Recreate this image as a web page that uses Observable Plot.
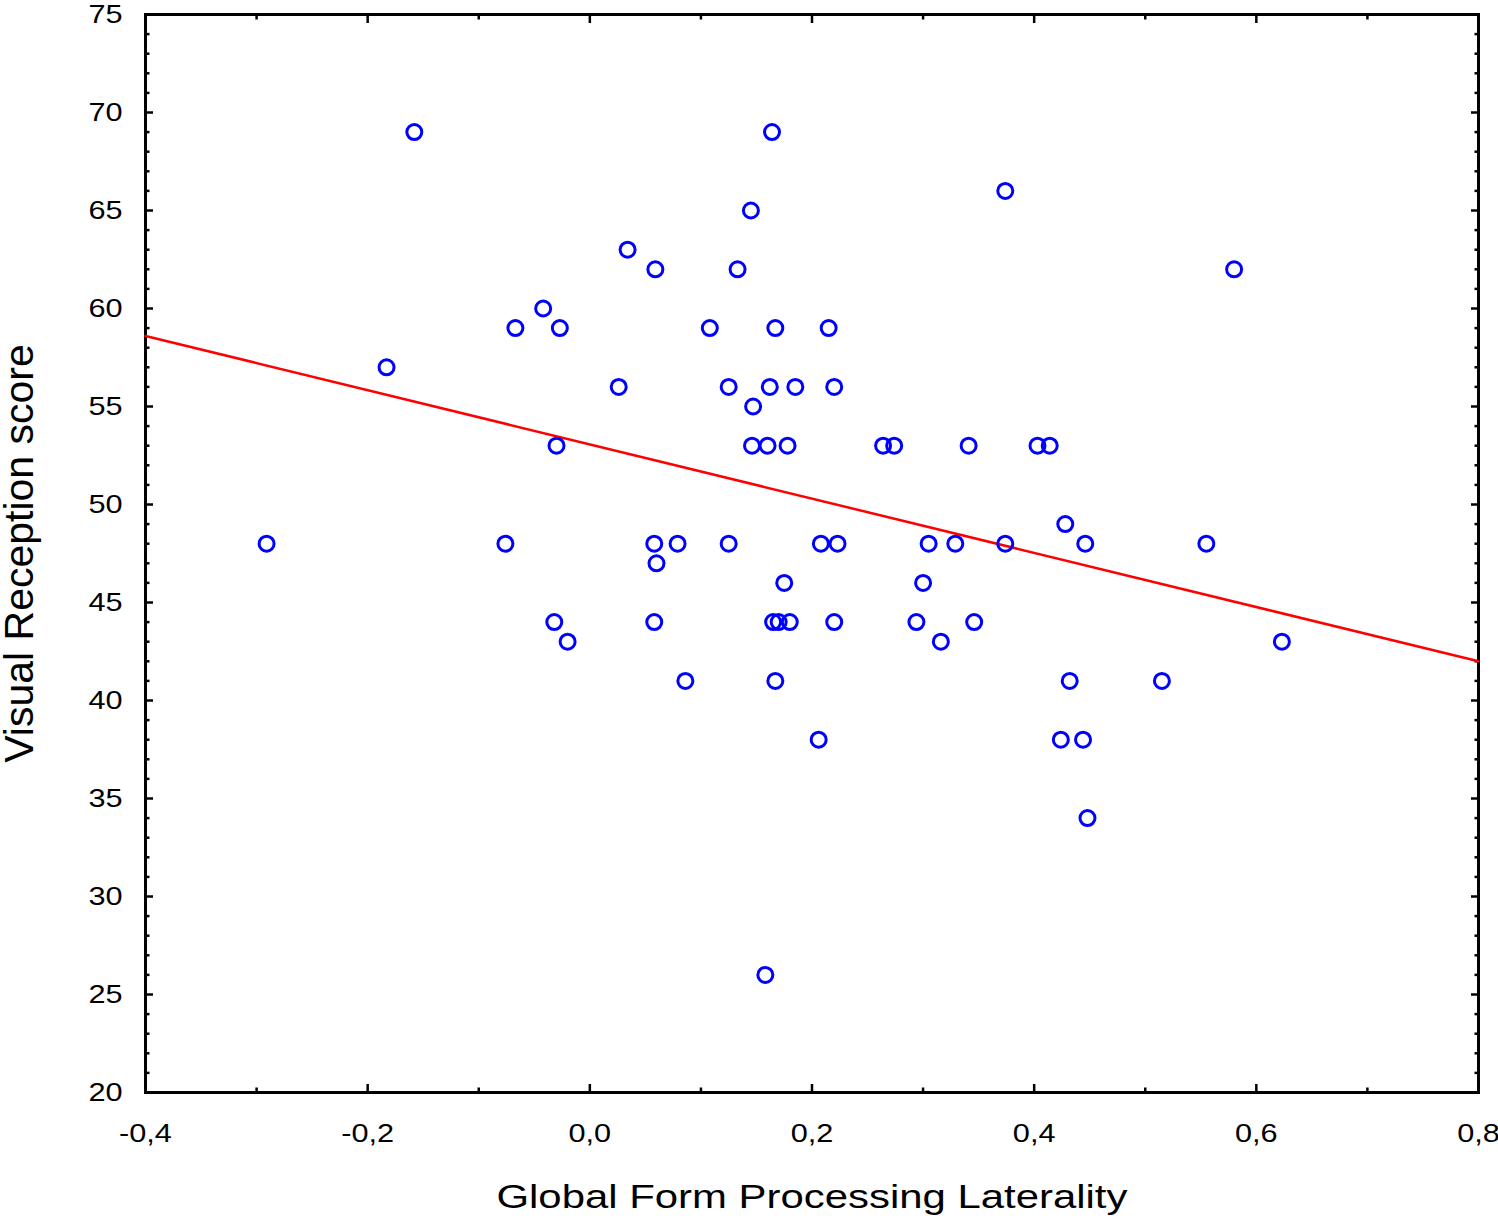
<!DOCTYPE html>
<html>
<head>
<meta charset="utf-8">
<script src="https://cdn.jsdelivr.net/npm/d3@7"></script>
<script src="https://cdn.jsdelivr.net/npm/@observablehq/plot@0.6"></script>
<style>
  html, body { margin: 0; padding: 0; background: #fff; }
  #chart svg { display: block; }
</style>
</head>
<body>
<div id="chart"></div>
<script>
// Global Form Processing Laterality (x) and Visual Reception score (y)
const laterality = [
  -0.291, -0.158, -0.183, -0.076, -0.067, -0.042, -0.027, -0.030, -0.032, -0.020,
   0.026,  0.034,  0.059,  0.058,  0.060,  0.058,  0.079,  0.086,  0.108,  0.125,
   0.125,  0.133,  0.145,  0.147,  0.146,  0.164,  0.160,  0.162,  0.167,  0.158,
   0.165,  0.170,  0.167,  0.175,  0.178,  0.180,  0.185,  0.206,  0.208,  0.215,
   0.220,  0.220,  0.223,  0.264,  0.274,  0.294,  0.300,  0.305,  0.316,  0.329,
   0.341,  0.346,  0.374,  0.374,  0.403,  0.414,  0.424,  0.428,  0.432,  0.444,
   0.446,  0.448,  0.515,  0.555,  0.580,  0.623
];
const visualReception = [
  48, 69, 57, 48, 59, 60, 59, 53, 44, 43,
  56, 63, 62, 48, 47, 44, 48, 41, 59, 56,
  48, 62, 65, 55, 53, 69, 53, 56, 59, 26,
  44, 44, 41, 46, 53, 44, 56, 38, 48, 59,
  56, 44, 48, 53, 53, 44, 46, 48, 43, 48,
  53, 44, 66, 48, 53, 53, 38, 49, 41, 38,
  48, 34, 41, 48, 62, 43
];

// Fitted line, read at the frame edges
const fitX = [-0.4, 0.8];
const fitY = [58.6, 42.0];

// Axis ticks
const xMajor = [-0.4, -0.2, 0.0, 0.2, 0.4, 0.6, 0.8];
const xMinor = [-0.3, -0.1, 0.1, 0.3, 0.5, 0.7];
const yMajor = [20, 25, 30, 35, 40, 45, 50, 55, 60, 65, 70, 75];
const yMinor = d3.range(21, 75).filter(v => v % 5 !== 0);

const xTitle = "Global Form Processing Laterality";
const yTitle = "Visual Reception score";

const points = laterality.map((x, i) => ({x, y: visualReception[i]}));
const fit = fitX.map((x, i) => ({x, y: fitY[i]}));

const fmtX = d => d.toFixed(1).replace(".", ",");
const fmtY = d => String(d);

const majorLen = 8, minorLen = 4.5, tickW = 2.5;

const chart = Plot.plot({
  width: 1498,
  height: 1220,
  marginLeft: 145,
  marginRight: 20,
  marginTop: 14,
  marginBottom: 128,
  style: {fontFamily: "'Liberation Sans', Arial, sans-serif", color: "black", background: "white"},
  x: {domain: [-0.4, 0.8], label: null},
  y: {domain: [20, 75], label: null},
  marks: [
    // inward ticks on all four sides
    Plot.axisX(xMajor, {anchor: "bottom", tickSize: majorLen, dy: -majorLen, fill: "none", label: null, strokeWidth: tickW}),
    Plot.axisX(xMinor, {anchor: "bottom", tickSize: minorLen, dy: -minorLen, fill: "none", label: null, strokeWidth: tickW}),
    Plot.axisX(xMajor, {anchor: "top", tickSize: majorLen, dy: majorLen, fill: "none", label: null, strokeWidth: tickW}),
    Plot.axisX(xMinor, {anchor: "top", tickSize: minorLen, dy: minorLen, fill: "none", label: null, strokeWidth: tickW}),
    Plot.axisY(yMajor, {anchor: "left", tickSize: majorLen, dx: majorLen, fill: "none", label: null, strokeWidth: tickW}),
    Plot.axisY(yMinor, {anchor: "left", tickSize: minorLen, dx: minorLen, fill: "none", label: null, strokeWidth: tickW}),
    Plot.axisY(yMajor, {anchor: "right", tickSize: majorLen, dx: -majorLen, fill: "none", label: null, strokeWidth: tickW}),
    Plot.axisY(yMinor, {anchor: "right", tickSize: minorLen, dx: -minorLen, fill: "none", label: null, strokeWidth: tickW}),
    // tick labels
    Plot.axisX(xMajor, {anchor: "bottom", tickSize: 0, tickPadding: 31.5, tickFormat: fmtX, fontSize: 26, label: null}),
    Plot.axisY(yMajor, {anchor: "left", tickSize: 0, tickPadding: 23, tickFormat: fmtY, fontSize: 26, label: null}),
    // frame
    Plot.frame({stroke: "black", strokeWidth: 3}),
    // regression line
    Plot.line(fit, {x: "x", y: "y", stroke: "#ff0000", strokeWidth: 2.5}),
    // points
    Plot.dot(points, {x: "x", y: "y", r: 7.5, stroke: "#0000ff", strokeWidth: 3, fill: "none"}),
    // axis titles
    Plot.text([xTitle], {text: d => d, frameAnchor: "bottom", dy: 104.5, lineAnchor: "middle", textAnchor: "middle", fontSize: 33}),
    Plot.text([yTitle], {text: d => d, frameAnchor: "left", dx: -126, rotate: -90, lineAnchor: "middle", textAnchor: "middle", fontSize: 41})
  ]
});
document.getElementById("chart").appendChild(chart);

// The reference's horizontal texts are drawn wider than the font's natural width:
// widen them about their anchor point.
const tickTexts = new Set([...xMajor.map(fmtX), ...yMajor.map(fmtY)]);
chart.querySelectorAll("text").forEach(t => {
  const s = t.textContent;
  let k = null;
  if (tickTexts.has(s)) k = 1.18;
  else if (s === xTitle) k = 1.27;
  if (k === null) return;
  const b = t.getBBox();
  let anchor = t.getAttribute("text-anchor");
  if (!anchor) {
    let p = t.parentNode;
    while (p && p !== chart && !anchor) { anchor = p.getAttribute && p.getAttribute("text-anchor"); p = p.parentNode; }
  }
  const ax = anchor === "end" ? b.x + b.width : anchor === "start" ? b.x : b.x + b.width / 2;
  const tr = t.getAttribute("transform") || "";
  t.setAttribute("transform", `${tr} translate(${ax},0) scale(${k},1) translate(${-ax},0)`.trim());
});
</script>
</body>
</html>
